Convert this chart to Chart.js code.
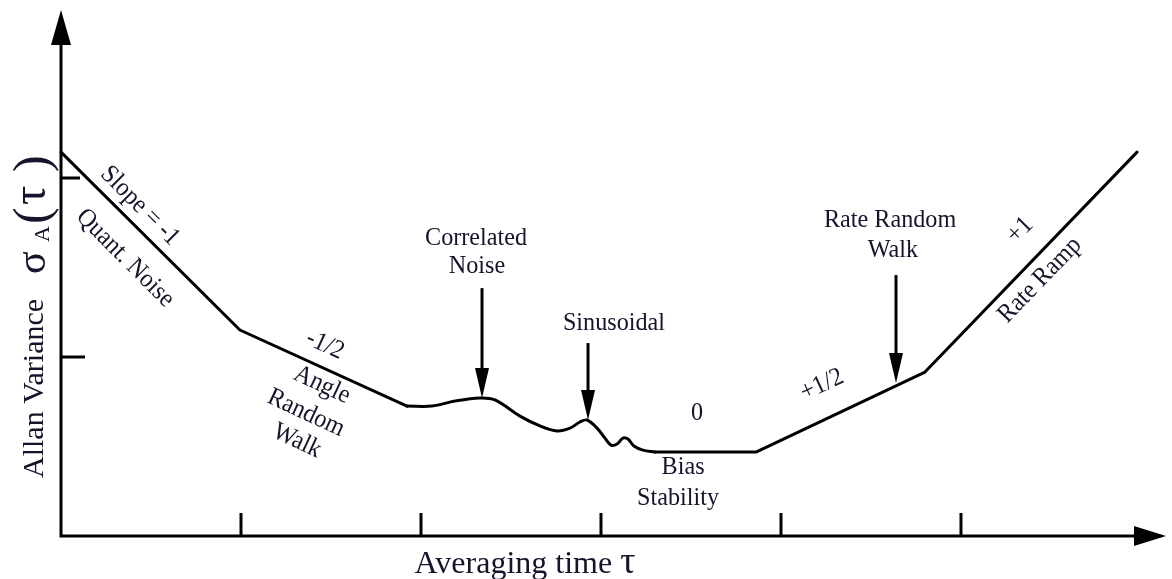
<!DOCTYPE html>
<html>
<head>
<meta charset="utf-8">
<script src="https://cdn.jsdelivr.net/npm/chart.js@4"></script>
<style>
  html, body { margin: 0; padding: 0; background: #fff; }
  canvas { display: block; }
</style>
</head>
<body>
<canvas id="c" width="1172" height="579"></canvas>
<script>
// Averaging time and Allan deviation, both in log decades.
// Quantization noise (slope -1) then angle random walk (slope -1/2)
const lineTau   = [0, 0.994, 1.922];
const lineSigma = [2.145, 1.151, 0.726];
// Correlated noise hump and sinusoidal ripples
const bumpTau   = [1.922, 2.061, 2.189, 2.328, 2.411, 2.55, 2.661, 2.756, 2.828, 2.883, 2.922, 2.978, 3.022, 3.056, 3.089, 3.122, 3.15, 3.183, 3.233, 3.3];
const bumpSigma = [0.726, 0.726, 0.754, 0.771, 0.760, 0.670, 0.615, 0.587, 0.603, 0.637, 0.648, 0.603, 0.547, 0.508, 0.514, 0.547, 0.542, 0.503, 0.480, 0.469];
// Bias stability floor, rate random walk (+1/2) and rate ramp (+1)
const riseTau   = [3.3, 3.861, 4.8, 5.978];
const riseSigma = [0.469, 0.469, 0.916, 2.145];

// Decade tick positions on each axis
const xTicks = [1, 2, 3, 4, 5];
const yTicks = [1, 2];

// Pointer arrows: tau, top of shaft, tip on the curve
const arrowTau  = [2.339, 2.928, 4.639];
const arrowTop  = [1.385, 1.078, 1.458];
const arrowTip  = [0.771, 0.648, 0.855];

// Annotation texts
const noteText = ['Slope = -1', 'Quant. Noise', '-1/2', 'Angle', 'Random', 'Walk',
                  'Correlated', 'Noise', 'Sinusoidal', '0', 'Bias', 'Stability',
                  '+1/2', 'Rate Random', 'Walk', '+1', 'Rate Ramp'];

const X_MAX = 6.139, Y_MAX = 2.939;
const INK = '#14142a';
const SERIF = '"Liberation Serif", "DejaVu Serif", serif';

// where each note sits (tau, sigma) and its tilt in degrees
const notePlace = [
  [0.439, 1.844, 45], [0.356, 1.553, 45], [1.467, 1.067, 25], [1.45, 0.844, 25],
  [1.361, 0.687, 25], [1.311, 0.531, 25], [2.306, 1.665, 0], [2.311, 1.508, 0],
  [3.072, 1.19, 0], [3.533, 0.687, 0], [3.456, 0.385, 0], [3.428, 0.212, 0],
  [4.228, 0.844, -25], [4.606, 1.765, 0], [4.622, 1.598, 0], [5.328, 1.709, -45],
  [5.439, 1.43, -46]
];

const pts = (xs, ys) => xs.map((x, i) => ({ x, y: ys[i] }));

const diagram = {
  id: 'diagram',
  beforeDatasetsDraw(chart) {
    const { ctx, chartArea: a, scales: { x, y } } = chart;
    ctx.save();
    ctx.strokeStyle = '#000';
    ctx.fillStyle = '#000';
    ctx.lineWidth = 3;
    const x0 = x.getPixelForValue(0), y0 = y.getPixelForValue(0);
    // axis lines
    ctx.beginPath();
    ctx.moveTo(x0, a.top + 20);
    ctx.lineTo(x0, y0);
    ctx.lineTo(a.right - 20, y0);
    ctx.stroke();
    // arrow heads
    ctx.beginPath();
    ctx.moveTo(x0, a.top);
    ctx.lineTo(x0 - 10, a.top + 35);
    ctx.lineTo(x0 + 10, a.top + 35);
    ctx.closePath();
    ctx.fill();
    ctx.beginPath();
    ctx.moveTo(a.right, y0);
    ctx.lineTo(a.right - 32, y0 - 10);
    ctx.lineTo(a.right - 32, y0 + 10);
    ctx.closePath();
    ctx.fill();
    // tick marks, drawn inward
    ctx.beginPath();
    xTicks.forEach(t => {
      const px = x.getPixelForValue(t);
      ctx.moveTo(px, y0 + 1);
      ctx.lineTo(px, y0 - 23);
    });
    yTicks.forEach((t, i) => {
      const py = y.getPixelForValue(t);
      ctx.moveTo(x0, py);
      ctx.lineTo(x0 + (i === 0 ? 24 : 19), py);
    });
    ctx.stroke();

    // axis titles
    ctx.fillStyle = INK;
    ctx.textBaseline = 'alphabetic';
    ctx.textAlign = 'left';
    ctx.font = '32px ' + SERIF;
    const w1 = ctx.measureText('Averaging time ').width;
    ctx.font = '38px ' + SERIF;
    const w2 = ctx.measureText('τ').width;
    const sx = 525 - (w1 + w2) / 2;
    ctx.font = '32px ' + SERIF;
    ctx.fillText('Averaging time ', sx, y0 + 37);
    ctx.font = '38px ' + SERIF;
    ctx.fillText('τ', sx + w1, y0 + 37);

    // vertical title: Allan Variance σA(τ)
    ctx.save();
    ctx.translate(x0 - 18, y0 - 58);
    ctx.rotate(-Math.PI / 2);
    ctx.font = '30px ' + SERIF;
    ctx.fillText('Allan Variance', 0, 0);
    ctx.font = '42px ' + SERIF;
    ctx.fillText('σ', 204, 2);
    ctx.font = '22px ' + SERIF;
    ctx.fillText('A', 236, 6);
    ctx.font = '50px ' + SERIF;
    ctx.fillText('(', 254, 5);
    ctx.font = '48px ' + SERIF;
    ctx.fillText('τ', 273, 2);
    ctx.font = '50px ' + SERIF;
    ctx.fillText(')', 306, 5);
    ctx.restore();
    ctx.restore();
  },
  afterDatasetsDraw(chart) {
    const { ctx, scales: { x, y } } = chart;
    ctx.save();
    // pointer arrows
    ctx.strokeStyle = '#000';
    ctx.fillStyle = '#000';
    ctx.lineWidth = 3;
    arrowTau.forEach((t, i) => {
      const px = x.getPixelForValue(t);
      const top = y.getPixelForValue(arrowTop[i]);
      const tip = y.getPixelForValue(arrowTip[i]);
      ctx.beginPath();
      ctx.moveTo(px, top);
      ctx.lineTo(px, tip - 20);
      ctx.stroke();
      ctx.beginPath();
      ctx.moveTo(px, tip);
      ctx.lineTo(px - 7, tip - 30);
      ctx.lineTo(px + 7, tip - 30);
      ctx.closePath();
      ctx.fill();
    });
    // notes: slightly condensed serif
    ctx.fillStyle = INK;
    ctx.font = '26px ' + SERIF;
    ctx.textAlign = 'center';
    ctx.textBaseline = 'middle';
    noteText.forEach((s, i) => {
      const [t, v, ang] = notePlace[i];
      ctx.save();
      ctx.translate(x.getPixelForValue(t), y.getPixelForValue(v));
      ctx.rotate(ang * Math.PI / 180);
      ctx.scale(0.93, 1);
      ctx.fillText(s, 0, 0);
      ctx.restore();
    });
    ctx.restore();
  }
};

const lineStyle = {
  borderColor: '#000',
  borderWidth: 3,
  pointRadius: 0,
  fill: false,
  clip: false,
  borderJoinStyle: 'round',
  borderCapStyle: 'round'
};

new Chart(document.getElementById('c'), {
  type: 'line',
  data: {
    datasets: [
      { ...lineStyle, data: pts(lineTau, lineSigma), tension: 0 },
      { ...lineStyle, data: pts(bumpTau, bumpSigma), tension: 0.35 },
      { ...lineStyle, data: pts(riseTau, riseSigma), tension: 0 }
    ]
  },
  options: {
    responsive: false,
    devicePixelRatio: 1,
    animation: false,
    events: [],
    layout: { padding: { left: 61, right: 6, top: 10, bottom: 43 } },
    scales: {
      x: { type: 'linear', min: 0, max: X_MAX, display: false },
      y: { type: 'linear', min: 0, max: Y_MAX, display: false }
    },
    plugins: { legend: { display: false }, tooltip: { enabled: false } }
  },
  plugins: [diagram]
});
</script>
</body>
</html>
